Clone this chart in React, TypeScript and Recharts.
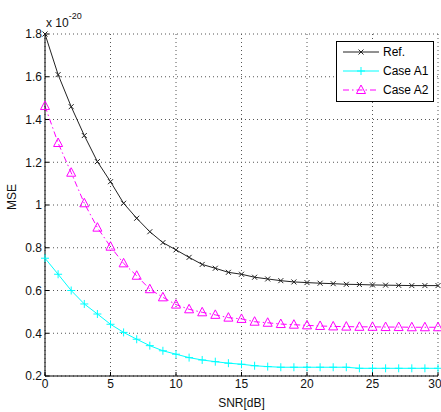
import React from "react";
import { LineChart, Line, XAxis, YAxis, CartesianGrid, Legend } from "recharts";

// SNR sweep 0..30 dB
const snr = [0, 1, 2, 3, 4, 5, 6, 7, 8, 9, 10, 11, 12, 13, 14, 15, 16, 17, 18, 19, 20, 21, 22, 23, 24, 25, 26, 27, 28, 29, 30];

// MSE values (x 1e-20)
const refMse = [1.80, 1.61, 1.46, 1.325, 1.203, 1.109, 1.008, 0.938, 0.875, 0.824, 0.79, 0.755, 0.722, 0.704, 0.685, 0.676, 0.662, 0.654, 0.646, 0.64, 0.637, 0.634, 0.632, 0.629, 0.628, 0.626, 0.625, 0.624, 0.623, 0.623, 0.623];
const caseA1 = [0.751, 0.676, 0.6, 0.537, 0.49, 0.442, 0.404, 0.372, 0.342, 0.318, 0.302, 0.286, 0.275, 0.267, 0.26, 0.255, 0.248, 0.244, 0.241, 0.241, 0.241, 0.241, 0.241, 0.241, 0.236, 0.236, 0.236, 0.236, 0.236, 0.236, 0.236];
const caseA2 = [1.463, 1.29, 1.151, 1.008, 0.894, 0.805, 0.727, 0.669, 0.606, 0.568, 0.534, 0.512, 0.498, 0.486, 0.473, 0.467, 0.454, 0.449, 0.443, 0.44, 0.437, 0.434, 0.432, 0.431, 0.43, 0.43, 0.429, 0.429, 0.428, 0.428, 0.428];

const xTicks = [0, 5, 10, 15, 20, 25, 30];
const yTicks = [0.2, 0.4, 0.6, 0.8, 1.0, 1.2, 1.4, 1.6, 1.8];

const seriesNames = ["Ref.", "Case A1", "Case A2"];

const data = snr.map((s, i) => ({ snr: s, ref: refMse[i], a1: caseA1[i], a2: caseA2[i] }));

const FONT = "'Liberation Sans', Arial, sans-serif";
const DASHDOT = "6 3 1.5 3";

function XMark({ cx, cy, color = "#222" }: any) {
  const r = 2.5;
  return (
    <g>
      <line x1={cx - r} y1={cy - r} x2={cx + r} y2={cy + r} stroke={color} strokeWidth={1} />
      <line x1={cx - r} y1={cy + r} x2={cx + r} y2={cy - r} stroke={color} strokeWidth={1} />
    </g>
  );
}

function PlusMark({ cx, cy, color = "#00ffff" }: any) {
  const r = 4;
  return (
    <g>
      <line x1={cx - r} y1={cy} x2={cx + r} y2={cy} stroke={color} strokeWidth={1} />
      <line x1={cx} y1={cy - r} x2={cx} y2={cy + r} stroke={color} strokeWidth={1} />
    </g>
  );
}

function TriMark({ cx, cy, color = "#ff00ff" }: any) {
  return (
    <polygon
      points={`${cx},${cy - 5} ${cx - 4.5},${cy + 3.5} ${cx + 4.5},${cy + 3.5}`}
      fill="none"
      stroke={color}
      strokeWidth={1}
    />
  );
}

function LegendBox() {
  const rows = [
    { name: seriesNames[0], color: "#222", dash: undefined, Mark: XMark },
    { name: seriesNames[1], color: "#00ffff", dash: undefined, Mark: PlusMark },
    { name: seriesNames[2], color: "#ff00ff", dash: DASHDOT, Mark: TriMark },
  ];
  return (
    <svg width={98} height={61} style={{ display: "block" }}>
      <rect x={0.5} y={0.5} width={97} height={60} fill="#fff" stroke="#000" />
      {rows.map((r, i) => {
        const y = 11 + i * 19;
        return (
          <g key={r.name}>
            <line x1={7} y1={y} x2={43} y2={y} stroke={r.color} strokeDasharray={r.dash} />
            <r.Mark cx={25} cy={y} color={r.color} />
            <text x={47} y={y + 4} fontSize={12} fontFamily={FONT} fill="#000">
              {r.name}
            </text>
          </g>
        );
      })}
    </svg>
  );
}

export default function App() {
  return (
    <div style={{ position: "absolute", left: 0, top: 0, background: "#fff" }}>
      <LineChart width={441} height={412} data={data} margin={{ top: 34, right: 3, bottom: 0, left: 0 }}>
        <CartesianGrid stroke="#555" strokeDasharray="1 3" />
        <XAxis
          dataKey="snr"
          type="number"
          domain={[0, 30]}
          ticks={xTicks}
          height={36}
          stroke="#000"
          tickSize={-4}
          tickMargin={7}
          tick={{ fill: "#111", fontSize: 12, fontFamily: FONT }}
          label={{
            content: ({ viewBox }: any) => (
              <text x={viewBox.x + viewBox.width / 2} y={viewBox.y + viewBox.height - 5} textAnchor="middle" fontSize={12} fontFamily={FONT} fill="#111">
                SNR[dB]
              </text>
            ),
          }}
        />
        <XAxis
          xAxisId="top"
          orientation="top"
          dataKey="snr"
          type="number"
          domain={[0, 30]}
          ticks={xTicks}
          height={0}
          stroke="#000"
          tickSize={-4}
          tick={false}
        />
        <YAxis
          type="number"
          domain={[0.2, 1.8]}
          ticks={yTicks}
          width={45}
          stroke="#000"
          tickSize={-4}
          tickMargin={7}
          tickFormatter={(v: number) => String(+v.toFixed(1))}
          tick={{ fill: "#111", fontSize: 12, fontFamily: FONT }}
          label={{
            content: ({ viewBox }: any) => {
              const x = viewBox.x + 12;
              const y = viewBox.y + viewBox.height / 2 - 8;
              const ex = viewBox.x + viewBox.width + 1;
              const ey = viewBox.y - 7;
              return (
                <g>
                  <text x={x} y={y} transform={`rotate(-90 ${x} ${y})`} textAnchor="middle" dominantBaseline="central" fontSize={12} fontFamily={FONT} fill="#111">
                    MSE
                  </text>
                  <text x={ex} y={ey} fontSize={12} fontFamily={FONT} fill="#111">
                    x 10
                    <tspan fontSize={9} dy={-8}>-20</tspan>
                  </text>
                </g>
              );
            },
          }}
        />
        <YAxis
          yAxisId="right"
          orientation="right"
          type="number"
          domain={[0.2, 1.8]}
          ticks={yTicks}
          width={0}
          stroke="#000"
          tickSize={-4}
          tick={false}
        />
        <Legend
          layout="vertical"
          align="center"
          verticalAlign="middle"
          wrapperStyle={{ left: 336, top: 41, width: 98, height: 61 }}
          content={() => <LegendBox />}
        />
        <Line
          dataKey="ref"
          name={seriesNames[0]}
          stroke="#222"
          strokeWidth={1}
          dot={(p: any) => <XMark key={`r${p.index}`} cx={p.cx} cy={p.cy} color="#222" />}
          isAnimationActive={false}
        />
        <Line
          dataKey="a1"
          name={seriesNames[1]}
          stroke="#00ffff"
          strokeWidth={1}
          dot={(p: any) => <PlusMark key={`a1${p.index}`} cx={p.cx} cy={p.cy} color="#00ffff" />}
          isAnimationActive={false}
        />
        <Line
          dataKey="a2"
          name={seriesNames[2]}
          stroke="#ff00ff"
          strokeWidth={1}
          strokeDasharray={DASHDOT}
          dot={(p: any) => <TriMark key={`a2${p.index}`} cx={p.cx} cy={p.cy} color="#ff00ff" />}
          isAnimationActive={false}
        />
      </LineChart>
    </div>
  );
}
